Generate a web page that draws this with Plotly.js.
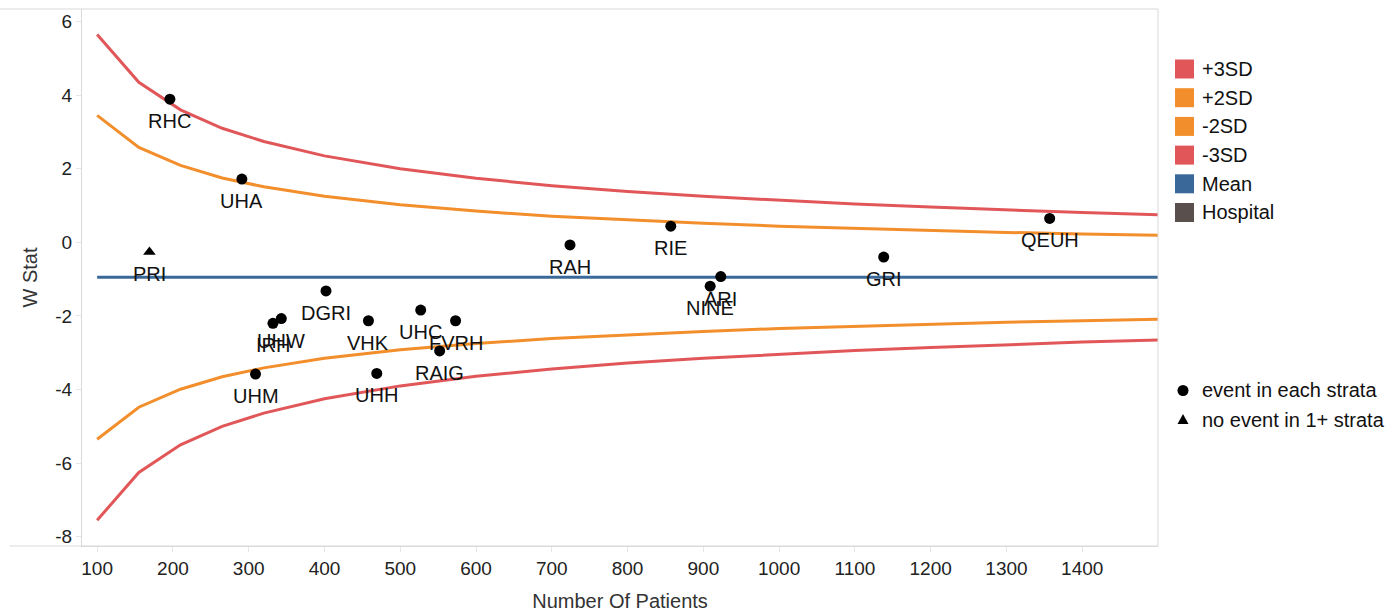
<!DOCTYPE html>
<html>
<head>
<meta charset="utf-8">
<script src="https://cdn.plot.ly/plotly-3.0.1.min.js"></script>
<style>html,body{margin:0;padding:0;background:#fff;}#chart{width:1394px;height:612px;}</style>
</head>
<body>
<div id="chart"></div>
<script>
// ---- data ----
const nGrid   = [100, 155, 210, 265, 320, 400, 500, 600, 700, 800, 900, 1000, 1100, 1200, 1300, 1400, 1500];
const plus3SD = [5.65, 4.35, 3.60, 3.10, 2.74, 2.35, 2.00, 1.74, 1.54, 1.38, 1.25, 1.14, 1.04, 0.96, 0.88, 0.81, 0.75];
const plus2SD = [3.45, 2.58, 2.09, 1.75, 1.51, 1.25, 1.02, 0.85, 0.71, 0.61, 0.52, 0.44, 0.38, 0.32, 0.27, 0.23, 0.19];
const minus2SD = [-5.35, -4.48, -3.99, -3.65, -3.41, -3.15, -2.92, -2.75, -2.61, -2.51, -2.42, -2.34, -2.28, -2.22, -2.17, -2.13, -2.09];
const minus3SD = [-7.55, -6.25, -5.50, -5.00, -4.64, -4.25, -3.90, -3.64, -3.44, -3.28, -3.15, -3.04, -2.94, -2.86, -2.78, -2.71, -2.65];
const meanX = [100, 1500];
const meanY = [-0.95, -0.95];

const hospitals = ['PRI','RHC','UHA','UHM','IRH','UHW','DGRI','VHK','UHH','UHC','RAIG','FVRH','RAH','RIE','NINE','ARI','GRI','QEUH'];
const patients  = [169, 196, 291, 309, 332, 343, 402, 458, 469, 527, 552, 573, 724, 857, 909, 923, 1138, 1357];
const wStat     = [-0.26, 3.89, 1.72, -3.58, -2.20, -2.07, -1.32, -2.13, -3.56, -1.84, -2.95, -2.13, -0.07, 0.44, -1.19, -0.93, -0.40, 0.65];
const eventInEachStrata = [false, true, true, true, true, true, true, true, true, true, true, true, true, true, true, true, true, true];

const xTicks = [100,200,300,400,500,600,700,800,900,1000,1100,1200,1300,1400];
const yTicks = [-8,-6,-4,-2,0,2,4,6];

const colorLegend = ['+3SD','+2SD','-2SD','-3SD','Mean','Hospital'];
const shapeLegend = ['event in each strata','no event in 1+ strata'];

// ---- styling ----
const RED = '#e15759', ORANGE = '#f28e2b', BLUE = '#3a6898', HOSP = '#59504e';
const FONT = 'Liberation Sans, Arial, sans-serif';
const W = 1394, H = 612;
const M = {l: 82, r: 236, t: 9, b: 66};
const PW = W - M.l - M.r, PH = H - M.t - M.b;
const px = x => (x - M.l) / PW;
const py = y => (H - M.b - y) / PH;

const lineTrace = (y, c) => ({x: nGrid, y: y, mode: 'lines', line: {color: c, width: 3}, hoverinfo: 'skip', showlegend: false});

const traces = [
  lineTrace(plus3SD, RED),
  lineTrace(plus2SD, ORANGE),
  lineTrace(minus2SD, ORANGE),
  lineTrace(minus3SD, RED),
  {x: meanX, y: meanY, mode: 'lines', line: {color: BLUE, width: 3}, showlegend: false},
  {
    x: patients, y: wStat, mode: 'markers', showlegend: false,
    marker: {
      color: '#000', size: 11,
      symbol: eventInEachStrata.map(e => e ? 'circle' : 'triangle-up')
    }
  }
];

const annotations = hospitals.map((h, i) => ({
  x: patients[i], y: wStat[i], xref: 'x', yref: 'y', text: h, showarrow: false,
  yshift: -22, font: {family: FONT, size: 20, color: '#111'}
}));

// colour legend
const shapes = [];
const legColors = [RED, ORANGE, ORANGE, RED, BLUE, HOSP];
colorLegend.forEach((t, i) => {
  const cy = 69 + i * 28.7;
  shapes.push({type: 'rect', xref: 'paper', yref: 'paper', x0: px(1175), x1: px(1194), y0: py(cy - 9.5), y1: py(cy + 9.5),
    fillcolor: legColors[i], line: {width: 0}});
  annotations.push({xref: 'paper', yref: 'paper', x: px(1200), y: py(cy), xanchor: 'left', yanchor: 'middle',
    text: t, showarrow: false, font: {family: FONT, size: 20, color: '#111'}});
});
// shape legend
shapeLegend.forEach((t, i) => {
  const cy = 390 + i * 30;
  annotations.push({xref: 'paper', yref: 'paper', x: px(1200), y: py(cy), xanchor: 'left', yanchor: 'middle',
    text: t, showarrow: false, font: {family: FONT, size: 20, color: '#111'}});
});
shapes.push({type: 'circle', xref: 'paper', yref: 'paper', x0: px(1177.5), x1: px(1188.5), y0: py(396), y1: py(385),
  fillcolor: '#000', line: {width: 0}});
const triPath = 'M ' + px(1183) + ' ' + py(414) + ' L ' + px(1188.5) + ' ' + py(424) + ' L ' + px(1177.5) + ' ' + py(424) + ' Z';
shapes.push({type: 'path', xref: 'paper', yref: 'paper', path: triPath, fillcolor: '#000', line: {width: 0}});
// pane borders
shapes.push({type: 'line', xref: 'paper', yref: 'paper', x0: px(0), x1: px(1158), y0: py(9), y1: py(9), line: {color: '#d9d9d9', width: 1}});
shapes.push({type: 'line', xref: 'paper', yref: 'paper', x0: px(10), x1: px(1158), y0: py(546), y1: py(546), line: {color: '#d9d9d9', width: 1}});
shapes.push({type: 'line', xref: 'paper', yref: 'paper', x0: px(1158), x1: px(1158), y0: py(9), y1: py(546), line: {color: '#d9d9d9', width: 1}});

const layout = {
  width: W, height: H, margin: M,
  paper_bgcolor: '#fff', plot_bgcolor: '#fff',
  showlegend: false,
  font: {family: FONT, size: 19, color: '#222'},
  xaxis: {
    range: [80, 1500], tickvals: xTicks, ticktext: xTicks.map(String),
    showgrid: false, zeroline: false, showline: true, linecolor: '#d9d9d9', linewidth: 1,
    ticks: 'outside', ticklen: 5, tickcolor: '#e6e6e6',
    tickfont: {family: FONT, size: 19, color: '#222'},
    title: {text: 'Number Of Patients', font: {family: FONT, size: 20, color: '#333'}, standoff: 16}
  },
  yaxis: {
    range: [-8.25, 6.34], tickvals: yTicks, ticktext: yTicks.map(String),
    showgrid: false, zeroline: false, showline: true, linecolor: '#d9d9d9', linewidth: 1,
    ticks: 'outside', ticklen: 5, tickcolor: '#e6e6e6',
    tickfont: {family: FONT, size: 19, color: '#222'},
    title: {text: 'W Stat', font: {family: FONT, size: 20, color: '#333'}, standoff: 12}
  },
  annotations: annotations,
  shapes: shapes
};

Plotly.newPlot('chart', traces, layout, {staticPlot: true, displayModeBar: false});
</script>
</body>
</html>
